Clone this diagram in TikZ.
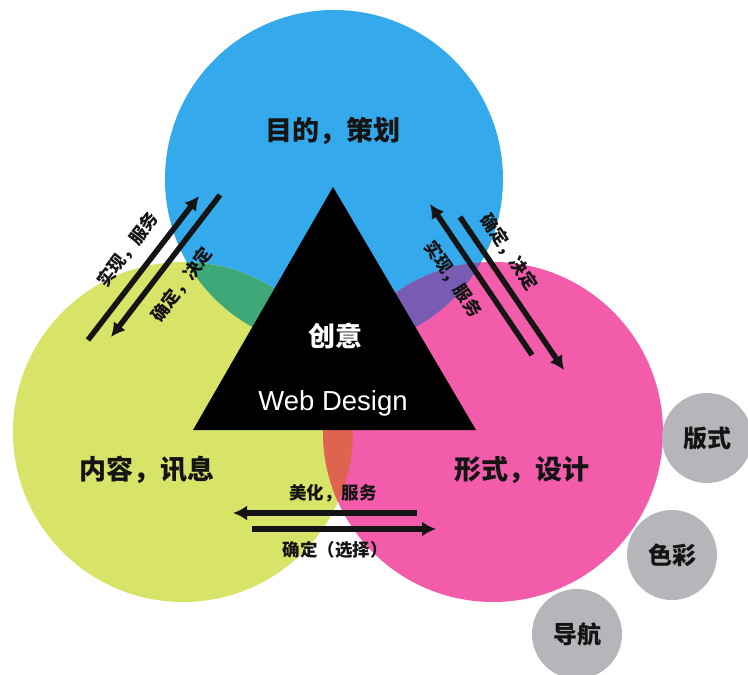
\documentclass[tikz,border=0pt]{standalone}
\usepackage{fontspec}
\setmainfont{Liberation Sans}
\newfontfamily\cjk{Noto Sans CJK SC}
\usetikzlibrary{arrows.meta}
\definecolor{bluec}{RGB}{52,170,236}
\definecolor{yellowc}{RGB}{216,228,104}
\definecolor{pinkc}{RGB}{242,92,170}
\definecolor{greenc}{RGB}{62,168,120}
\definecolor{purplec}{RGB}{120,92,180}
\definecolor{redc}{RGB}{222,100,80}
\definecolor{grayc}{RGB}{182,182,186}
\definecolor{inkc}{RGB}{20,20,20}
\tikzset{
  mainlbl/.style={font=\cjk\bfseries\fontsize{27}{30}\selectfont, text=inkc, inner sep=0pt},
  smalllbl/.style={font=\cjk\bfseries\fontsize{17.5}{20}\selectfont, text=inkc, inner sep=0pt},
  graycirc/.style={circle, fill=grayc, minimum size=90pt, inner sep=0pt, font=\cjk\bfseries\fontsize{24}{26}\selectfont, text=inkc},
  arr/.style={line width=5.5pt, draw=inkc, -{Latex[length=14pt,width=15pt]}},
}
\begin{document}
\begin{tikzpicture}[x=1pt,y=-1pt]
\useasboundingbox[fill=white] (0,0) rectangle (748,675);
% circle centres
\coordinate (cb) at (334,179);
\coordinate (cy) at (183,432);
\coordinate (cp) at (493,432);
\fill[bluec] (cb) circle[radius=169pt];
\fill[yellowc] (cy) circle[radius=170pt];
\fill[pinkc] (cp) circle[radius=170pt];
\begin{scope}
  \clip (cb) circle[radius=169pt];
  \fill[greenc] (cy) circle[radius=170pt];
  \fill[purplec] (cp) circle[radius=170pt];
\end{scope}
\begin{scope}
  \clip (cy) circle[radius=170pt];
  \fill[redc] (cp) circle[radius=170pt];
\end{scope}
% triangle
\coordinate (apex) at (333,187);
\coordinate (bl) at (193,430);
\coordinate (br) at (476,430);
\fill[black] (apex) -- (bl) -- (br) -- cycle;
\node[font=\cjk\bfseries\fontsize{27}{30}\selectfont, text=white, inner sep=0pt] (cy1) at (335,336) {创意};
\node[font=\fontsize{27.5}{30}\selectfont, text=white, inner sep=0pt] (wd) at (333,403) {Web Design};
% main labels
\node[mainlbl] (lb) at (333,131) {目的，策划};
\node[mainlbl] (ly) at (147,470) {内容，讯息};
\node[mainlbl] (lp) at (522,470) {形式，设计};
% left arrows
\coordinate (l1s) at (88,340);
\coordinate (l1e) at (199,196);
\coordinate (l2s) at (220,195);
\coordinate (l2e) at (111,337);
\draw[arr] (l1s) -- (l1e);
\draw[arr] (l2s) -- (l2e);
\node[smalllbl, rotate=52.5] (tl1) at (128,250) {实现，服务};
\node[smalllbl, rotate=52.5] (tl2) at (182,285) {确定，决定};
% right arrows
\coordinate (r1s) at (532,355);
\coordinate (r1e) at (430,204);
\coordinate (r2s) at (460,217);
\coordinate (r2e) at (564,370);
\draw[arr] (r1s) -- (r1e);
\draw[arr] (r2s) -- (r2e);
\node[smalllbl, rotate=-56] (tr1) at (453,279) {实现，服务};
\node[smalllbl, rotate=-56] (tr2) at (509,252) {确定，决定};
% bottom arrows
\coordinate (b1s) at (417,513);
\coordinate (b1e) at (233,513);
\coordinate (b2s) at (252,529);
\coordinate (b2e) at (436,529);
\draw[arr] (b1s) -- (b1e);
\draw[arr] (b2s) -- (b2e);
\node[smalllbl] (tb1) at (333,493) {美化，服务};
\node[smalllbl] (tb2) at (335,550) {确定（选择）};
% gray circles
\node[graycirc] (g1) at (707,438) {版式};
\node[graycirc] (g2) at (672,555) {色彩};
\node[graycirc] (g3) at (577,634) {导航};
\end{tikzpicture}
\end{document}
